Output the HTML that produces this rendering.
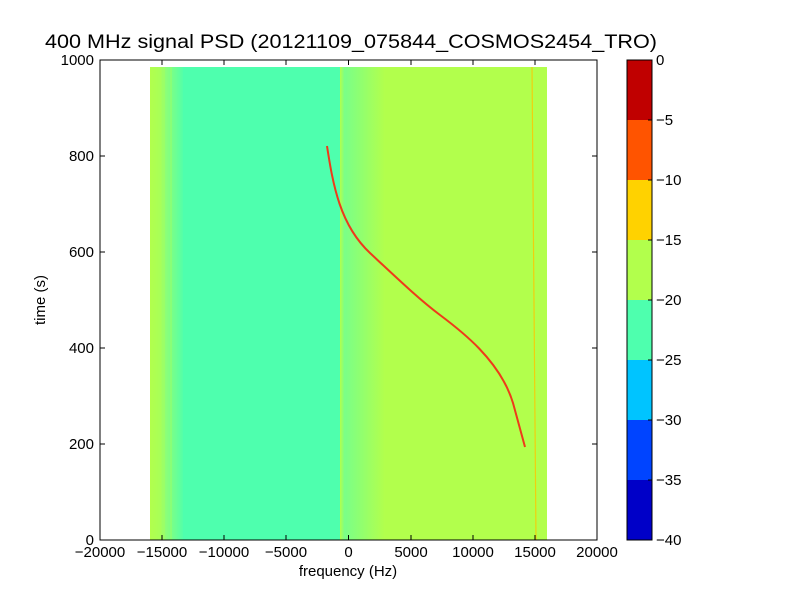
<!DOCTYPE html>
<html><head><style>body{margin:0;background:#fff}svg{display:block}</style></head><body>
<svg width="800" height="600" xmlns="http://www.w3.org/2000/svg" font-family="Liberation Sans, DejaVu Sans, sans-serif">
<rect width="800" height="600" fill="#fff"/>
<defs>
<linearGradient id="lg" x1="0" x2="1" y1="0" y2="0">
<stop offset="0" stop-color="#b2ff4c"/><stop offset="0.3" stop-color="#a8ff58"/>
<stop offset="0.45" stop-color="#8cff78"/><stop offset="0.7" stop-color="#70ff90"/>
<stop offset="1" stop-color="#4effae"/></linearGradient>
<linearGradient id="rg" x1="0" x2="1" y1="0" y2="0">
<stop offset="0" stop-color="#b2ff4c"/><stop offset="0.1" stop-color="#7aff88"/>
<stop offset="0.4" stop-color="#8cff74"/><stop offset="0.7" stop-color="#a0ff60"/>
<stop offset="1" stop-color="#b2ff4c"/></linearGradient>
</defs>
<rect x="150" y="67" width="397" height="473" fill="#b2ff4c"/>
<rect x="150" y="67" width="35" height="473" fill="url(#lg)"/>
<rect x="183" y="67" width="159" height="473" fill="#4effae"/>
<rect x="340" y="67" width="45" height="473" fill="url(#rg)"/>
<rect x="163" y="67" width="2" height="473" fill="#9cff64" opacity="0.7"/>
<rect x="170" y="67" width="2" height="473" fill="#90ff70" opacity="0.7"/>
<line x1="532" y1="67" x2="536" y2="540" stroke="#ffc400" stroke-width="1.2" opacity="0.8"/>
<path fill="none" stroke="#ee3a1a" stroke-width="2" d="M327,146 C333,185 340,225 370,253 S420,300 440,315 S500,360 513,403 L525,447"/>
<rect x="100" y="60" width="497" height="480" fill="none" stroke="#000"/>
<g stroke="#000">
<path d="M162,540v-5M224,540v-5M286,540v-5M348.5,540v-5M411,540v-5M473,540v-5M535,540v-5M162,60v5M224,60v5M286,60v5M348.5,60v5M411,60v5M473,60v5M535,60v5"/>
<path d="M100,444h5M100,348h5M100,252h5M100,156h5M597,444h-5M597,348h-5M597,252h-5M597,156h-5"/>
</g>
<g font-size="15" fill="#000" text-anchor="middle">
<text x="100" y="557">−20000</text><text x="162" y="557">−15000</text><text x="224" y="557">−10000</text>
<text x="286" y="557">−5000</text>
<text x="348.5" y="557">0</text><text x="411" y="557">5000</text><text x="473" y="557">10000</text><text x="535" y="557">15000</text><text x="597" y="557">20000</text>
</g>
<g font-size="15" fill="#000" text-anchor="end">
<text x="94" y="545">0</text><text x="94" y="449">200</text><text x="94" y="353">400</text><text x="94" y="257">600</text><text x="94" y="161">800</text><text x="94" y="65">1000</text>
</g>
<text x="348" y="576" font-size="15" text-anchor="middle">frequency (Hz)</text>
<text x="45" y="300" font-size="15" text-anchor="middle" transform="rotate(-90 45 300)">time (s)</text>
<text x="351" y="48" font-size="19" text-anchor="middle" textLength="612" lengthAdjust="spacingAndGlyphs">400 MHz signal PSD (20121109_075844_COSMOS2454_TRO)</text>
<rect x="627" y="60" width="25" height="60" fill="#c00000"/>
<rect x="627" y="120" width="25" height="60" fill="#ff5400"/>
<rect x="627" y="180" width="25" height="60" fill="#ffd200"/>
<rect x="627" y="240" width="25" height="60" fill="#b2ff4c"/>
<rect x="627" y="300" width="25" height="60" fill="#4effae"/>
<rect x="627" y="360" width="25" height="60" fill="#00c4ff"/>
<rect x="627" y="420" width="25" height="60" fill="#0044ff"/>
<rect x="627" y="480" width="25" height="60" fill="#0000c8"/>
<rect x="627" y="60" width="25" height="480" fill="none" stroke="#000"/>
<g stroke="#000"><path d="M652,120h-4M652,180h-4M652,240h-4M652,300h-4M652,360h-4M652,420h-4M652,480h-4"/></g>
<g font-size="15" fill="#000">
<text x="656" y="65">0</text><text x="656" y="125">−5</text><text x="656" y="185">−10</text><text x="656" y="245">−15</text><text x="656" y="305">−20</text><text x="656" y="365">−25</text><text x="656" y="425">−30</text><text x="656" y="485">−35</text><text x="656" y="545">−40</text>
</g>
</svg>
</body></html>
